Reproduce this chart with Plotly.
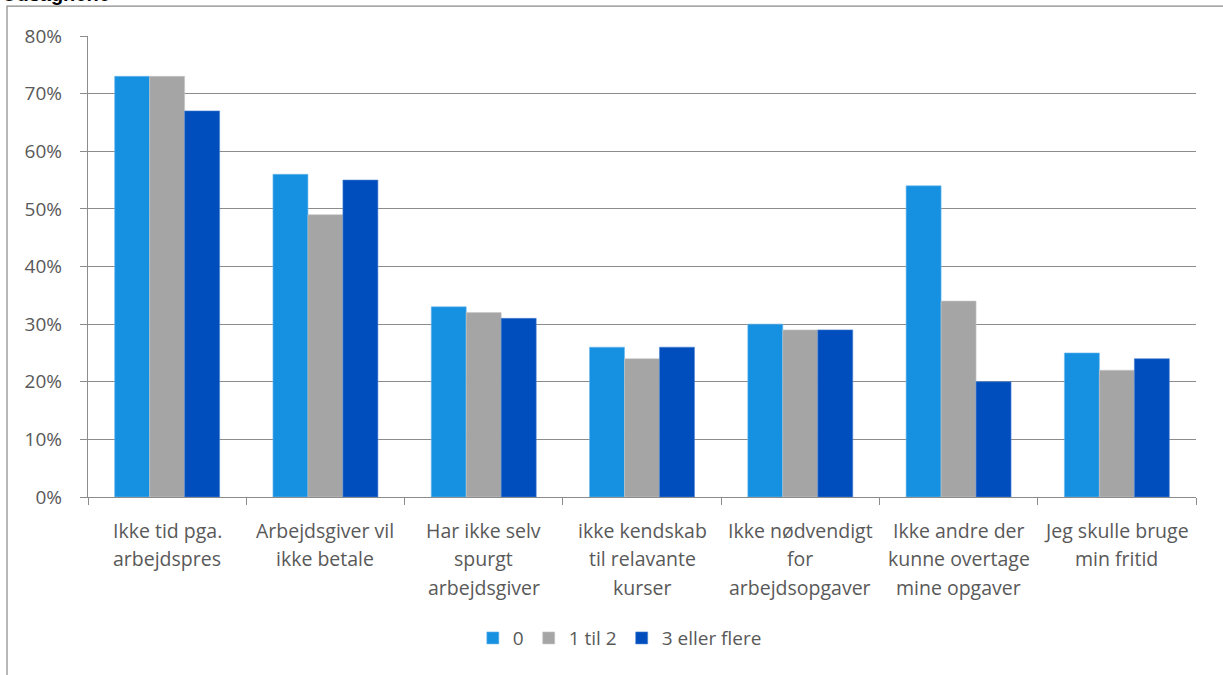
import plotly.graph_objects as go

title_text = "Udsagnene"
categories = [
    ["Ikke tid pga.", "arbejdspres"],
    ["Arbejdsgiver vil", "ikke betale"],
    ["Har ikke selv", "spurgt", "arbejdsgiver"],
    ["ikke kendskab", "til relavante", "kurser"],
    ["Ikke nødvendigt", "for", "arbejdsopgaver"],
    ["Ikke andre der", "kunne overtage", "mine opgaver"],
    ["Jeg skulle bruge", "min fritid"],
]
series_names = ["0", "1 til 2", "3 eller flere"]
values_0 = [0.73, 0.56, 0.33, 0.26, 0.30, 0.54, 0.25]
values_1til2 = [0.73, 0.49, 0.32, 0.24, 0.29, 0.34, 0.22]
values_3plus = [0.67, 0.55, 0.31, 0.26, 0.29, 0.20, 0.24]
y_tick_vals = [0, 0.1, 0.2, 0.3, 0.4, 0.5, 0.6, 0.7, 0.8]
y_tick_text = ["0%", "10%", "20%", "30%", "40%", "50%", "60%", "70%", "80%"]

colors = ["#1691E1", "#A5A5A5", "#004EBE"]
edge_colors = ["#6FB9EC", "#C8C8C8", "#4D83D2"]

cat_keys = [" ".join(c) for c in categories]

fig = go.Figure()
for name, vals, col, edge in zip(series_names, [values_0, values_1til2, values_3plus], colors, edge_colors):
    fig.add_trace(go.Bar(
        x=cat_keys, y=vals, name=name,
        marker=dict(color=col, line=dict(color=edge, width=0.6)),
    ))

font_family = "'Open Sans', 'Noto Sans', sans-serif"
text_color = "#595959"
grid_color = "#8C8C8C"

# category labels as annotations (multi-line with larger line spacing)
for key, lines in zip(cat_keys, categories):
    for i, line in enumerate(lines):
        fig.add_annotation(
            x=key, y=0, xref="x", yref="paper",
            text=line, showarrow=False,
            yanchor="middle", xanchor="center",
            yshift=-33 - i * 28.5,
            font=dict(family=font_family, size=19.5, color=text_color),
        )

# partially visible title at top
fig.add_annotation(
    x=-0.0795, y=1.0629, xref="paper", yref="paper",
    text="<b>" + title_text + "</b>", showarrow=False,
    xanchor="left", yanchor="bottom",
    font=dict(family="Liberation Sans, Arial, sans-serif", size=20, color="#000000"),
)

# outer chart border
fig.add_shape(
    type="rect", xref="paper", yref="paper",
    x0=-0.0731, x1=1.2, y0=-0.6, y1=1.065,
    line=dict(color="#898989", width=1.2), fillcolor="rgba(0,0,0,0)",
    layer="below",
)

fig.update_layout(
    width=1223, height=675,
    margin=dict(l=88, r=27, t=36, b=178),
    plot_bgcolor="white", paper_bgcolor="white",
    barmode="group", bargap=0.337, bargroupgap=0,
    font=dict(family=font_family, size=19, color=text_color),
    legend=dict(
        orientation="h", x=0.48, xanchor="center", y=-0.306, yanchor="middle",
        font=dict(family=font_family, size=19, color=text_color),
        itemwidth=30, traceorder="normal",
    ),
    showlegend=True,
)
fig.update_xaxes(
    showticklabels=False, ticks="outside", tickson="boundaries",
    ticklen=7, tickcolor=grid_color, showline=True, linecolor=grid_color,
    linewidth=1.3, showgrid=False,
)
fig.update_yaxes(
    range=[0, 0.8], tickvals=y_tick_vals, ticktext=y_tick_text,
    ticks="outside", ticklen=7, tickcolor=grid_color,
    showline=True, linecolor=grid_color, linewidth=1.3,
    showgrid=True, gridcolor=grid_color, gridwidth=1.3,
    zeroline=False, ticklabelstandoff=14,
    tickfont=dict(family=font_family, size=19, color=text_color),
)

fig.write_html("out.html")
